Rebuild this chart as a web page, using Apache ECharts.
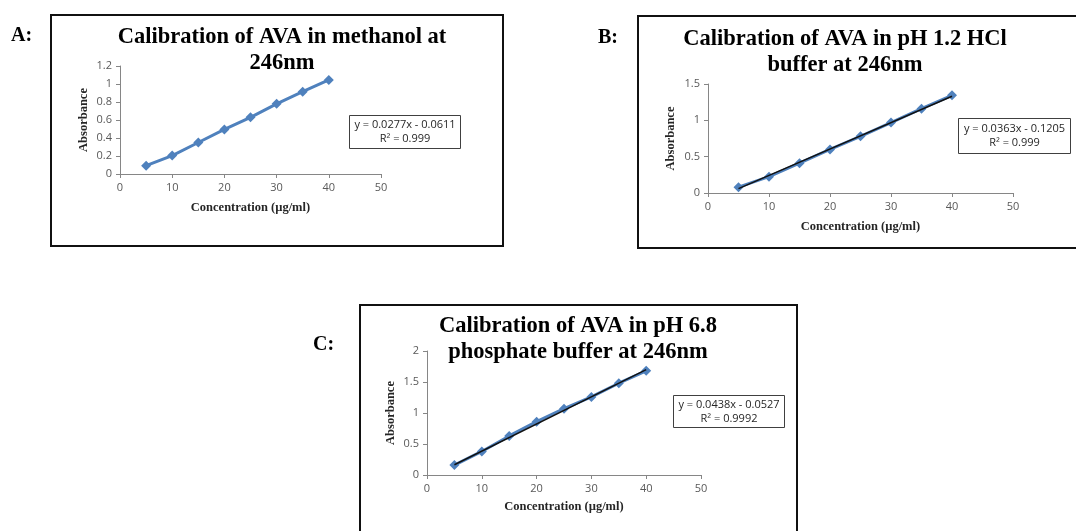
<!DOCTYPE html>
<html>
<head>
<meta charset="utf-8">
<script src="https://cdn.jsdelivr.net/npm/echarts@6/dist/echarts.min.js"></script>
<style>
  html, body { margin: 0; padding: 0; background: #fff; }
  #chart { width: 1076px; height: 531px; }
</style>
</head>
<body>
<div id="chart"></div>
<script>
// concentrations (µg/ml), shared by all three panels
const concentration = [5, 10, 15, 20, 25, 30, 35, 40];
// absorbance readings
const absMethanol = [0.093, 0.205, 0.35, 0.495, 0.63, 0.78, 0.915, 1.045];
const absHcl = [0.08, 0.225, 0.41, 0.6, 0.78, 0.97, 1.16, 1.345];
const absPhosphate = [0.16, 0.38, 0.63, 0.86, 1.07, 1.26, 1.48, 1.68];
// linear trendline end points for panels B and C
const trendHcl = [[5, 0.061], [40, 1.332]];
const trendPhosphate = [[5, 0.166], [40, 1.699]];
const titles = [
    "Calibration of AVA in methanol at\n246nm",
    "Calibration of AVA in pH 1.2 HCl\nbuffer at 246nm",
    "Calibration of AVA in pH 6.8\nphosphate buffer at 246nm"
];
const equations = [
    "y = 0.0277x - 0.0611\nR² = 0.999",
    "y = 0.0363x - 0.1205\nR² = 0.999",
    "y = 0.0438x - 0.0527\nR² = 0.9992"
];
const panelLabels = ["A:", "B:", "C:"];

const blue = "#4F81BD";
const axisGrey = "#868686";
const serif = "'Liberation Serif', 'DejaVu Serif', serif";
const sans = "'Open Sans', 'Liberation Sans', sans-serif";

const chart = echarts.init(document.getElementById("chart"));

function xAxisFor(gridIndex, nameGap) {
    return {
        type: "value", gridIndex: gridIndex, min: 0, max: 50, interval: 10,
        name: "Concentration (µg/ml)", nameLocation: "middle", nameGap: nameGap,
        nameTextStyle: { fontFamily: serif, fontWeight: "bold", fontSize: 12.5, color: "#262626" },
        axisLine: { lineStyle: { color: axisGrey, width: 1 } },
        axisTick: { show: true, length: 4, lineStyle: { color: axisGrey } },
        axisLabel: { color: "#595959", fontFamily: sans, fontSize: 11, margin: 8 },
        splitLine: { show: false }
    };
}

function yAxisFor(gridIndex, max, interval, nameGap) {
    return {
        type: "value", gridIndex: gridIndex, min: 0, max: max, interval: interval,
        name: "Absorbance", nameLocation: "middle", nameGap: nameGap,
        nameTextStyle: { fontFamily: serif, fontWeight: "bold", fontSize: 12.5, color: "#262626" },
        axisLine: { show: true, lineStyle: { color: axisGrey, width: 1 } },
        axisTick: { show: true, length: 4, lineStyle: { color: axisGrey } },
        axisLabel: { color: "#595959", fontFamily: sans, fontSize: 11, margin: 8 },
        splitLine: { show: false }
    };
}

function dataSeries(idx, values) {
    return {
        type: "line", xAxisIndex: idx, yAxisIndex: idx,
        data: concentration.map((c, i) => [c, values[i]]),
        symbol: "diamond", symbolSize: 10,
        lineStyle: { color: blue, width: 3 },
        itemStyle: { color: blue },
        animation: false, z: 2
    };
}

function trendSeries(idx, pts) {
    return {
        type: "line", xAxisIndex: idx, yAxisIndex: idx,
        data: pts, symbol: "none",
        lineStyle: { color: "#111", width: 1.5 },
        animation: false, z: 3
    };
}

function eqBox(x, y, w, h, text) {
    return {
        type: "group", left: x, top: y,
        children: [
            { type: "rect", shape: { x: 0, y: 0, width: w, height: h },
              style: { fill: "#fff", stroke: "#404040", lineWidth: 1 } },
            { type: "text", x: w / 2, y: h / 2,
              style: { text: text, fill: "#262626", font: "11px " + sans,
                       align: "center", verticalAlign: "middle", lineHeight: 14 } }
        ]
    };
}

function frame(x, y, w, h) {
    return { type: "rect", shape: { x: x, y: y, width: w, height: h },
             style: { fill: "none", stroke: "#111", lineWidth: 2 }, z: -1 };
}

function panelLabel(x, y, text) {
    return { type: "text", x: x, y: y,
             style: { text: text, fill: "#000", font: "bold 20px " + serif,
                      verticalAlign: "middle" } };
}

const titleStyle = { fontFamily: serif, fontWeight: "bold", fontSize: 22.5, lineHeight: 26, color: "#000" };

const options = {
    animation: false,
    title: [
        { text: titles[0], left: 282, top: 24, textAlign: "center", padding: 0, textStyle: titleStyle },
        { text: titles[1], left: 845, top: 26, textAlign: "center", padding: 0, textStyle: titleStyle },
        { text: titles[2], left: 578, top: 313, textAlign: "center", padding: 0, textStyle: titleStyle }
    ],
    grid: [
        { left: 120, right: 695, top: 66, bottom: 357 },
        { left: 708, right: 63, top: 84, bottom: 338 },
        { left: 427, right: 375, top: 351, bottom: 56 }
    ],
    xAxis: [xAxisFor(0, 27), xAxisFor(1, 27), xAxisFor(2, 25)],
    yAxis: [yAxisFor(0, 1.2, 0.2, 30), yAxisFor(1, 1.5, 0.5, 31), yAxisFor(2, 2, 0.5, 30)],
    series: [
        dataSeries(0, absMethanol),
        dataSeries(1, absHcl),
        trendSeries(1, trendHcl),
        dataSeries(2, absPhosphate),
        trendSeries(2, trendPhosphate)
    ],
    graphic: [
        frame(51, 15, 452, 231),
        frame(638, 16, 445, 232),
        frame(360, 305, 437, 240),
        panelLabel(11, 36, panelLabels[0]),
        panelLabel(598, 38, panelLabels[1]),
        panelLabel(313, 345, panelLabels[2]),
        eqBox(349, 115, 111, 33, equations[0]),
        eqBox(958, 118, 112, 35, equations[1]),
        eqBox(673, 395, 111, 32, equations[2])
    ]
};

chart.setOption(options);
window.addEventListener("resize", () => {
    chart.resize();
});
</script>
</body>
</html>
